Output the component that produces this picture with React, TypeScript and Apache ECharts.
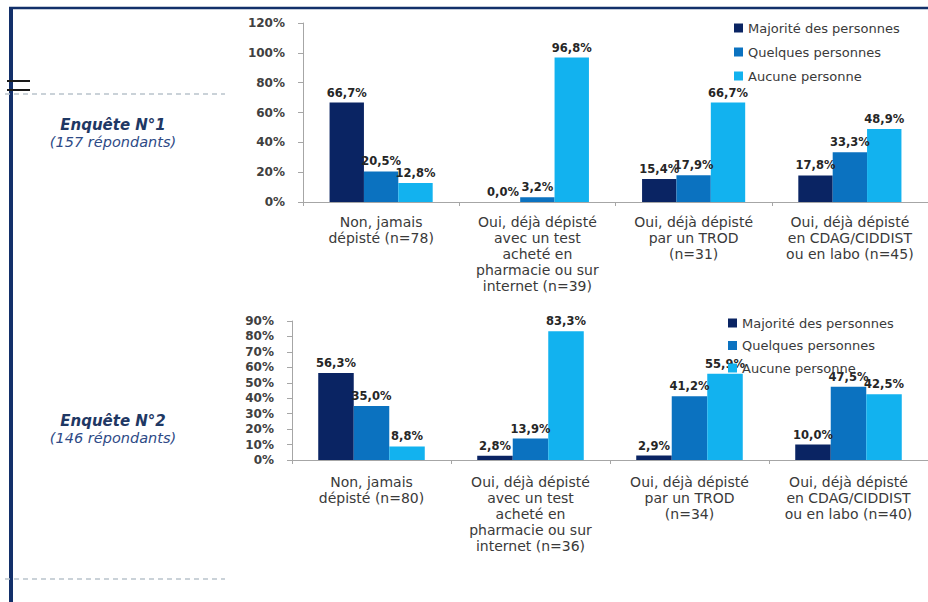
import React, { useEffect, useRef } from "react";
import * as echarts from "echarts";

const seriesNames = ["Majorité des personnes", "Quelques personnes", "Aucune personne"];
const seriesColors = ["#0a2463", "#0b72c0", "#12b2ef"];

const categoriesTop = [
  "Non, jamais\ndépisté (n=78)",
  "Oui, déjà dépisté\navec un test\nacheté en\npharmacie ou sur\ninternet (n=39)",
  "Oui, déjà dépisté\npar un TROD\n(n=31)",
  "Oui, déjà dépisté\nen CDAG/CIDDIST\nou en labo (n=45)",
];
const majoriteTop = [66.7, 0.0, 15.4, 17.8];
const quelquesTop = [20.5, 3.2, 17.9, 33.3];
const aucuneTop = [12.8, 96.8, 66.7, 48.9];

const categoriesBottom = [
  "Non, jamais\ndépisté (n=80)",
  "Oui, déjà dépisté\navec un test\nacheté en\npharmacie ou sur\ninternet (n=36)",
  "Oui, déjà dépisté\npar un TROD\n(n=34)",
  "Oui, déjà dépisté\nen CDAG/CIDDIST\nou en labo (n=40)",
];
const majoriteBottom = [56.3, 2.8, 2.9, 10.0];
const quelquesBottom = [35.0, 13.9, 41.2, 47.5];
const aucuneBottom = [8.8, 83.3, 55.9, 42.5];

const FONT = "DejaVu Sans";

export default function App() {
  const ref = useRef<HTMLDivElement>(null);

  useEffect(() => {
    document.body.style.margin = "0";
    const chart = echarts.init(ref.current!, null, { renderer: "svg" });

    const axisLineStyle = { color: "#a6a6a6", width: 1 };
    const yLabel = { fontFamily: FONT, fontSize: 12, fontWeight: "bold" as const, color: "#404040", margin: 18, formatter: "{value}%" };
    const xLabel = (margin: number) => ({
      fontFamily: FONT,
      fontSize: 14,
      color: "#3a3a3a",
      lineHeight: 16,
      margin,
      interval: 0,
      verticalAlign: "top" as const,
    });

    const fmt = (p: any) => p.value.toFixed(1).replace(".", ",") + "%";
    const mkSeries = (name: string, data: number[], color: string, idx: number) => ({
      type: "bar",
      name,
      data,
      xAxisIndex: idx,
      yAxisIndex: idx,
      barGap: "0%",
      barCategoryGap: idx === 0 ? "34%" : "33%",
      itemStyle: { color },
      label: {
        show: true,
        position: "top",
        distance: 4,
        formatter: fmt,
        fontFamily: FONT,
        fontSize: 11.5,
        fontWeight: "bold",
        color: "#262626",
      },
    });

    const topData = [majoriteTop, quelquesTop, aucuneTop];
    const botData = [majoriteBottom, quelquesBottom, aucuneBottom];

    const legendBase = {
      orient: "vertical" as const,
      icon: "rect",
      itemWidth: 9,
      itemHeight: 9,
      data: seriesNames,
      textStyle: { fontFamily: FONT, fontSize: 13, color: "#3a3a3a", lineHeight: 14 },
      selectedMode: false,
    };

    const dashed = { stroke: "#b9c3cc", lineWidth: 1.5, lineDash: [5, 4] };

    chart.setOption({
      animation: false,
      backgroundColor: "#ffffff",
      grid: [
        { left: 303, top: 23, width: 628, height: 179, containLabel: false },
        { left: 292, top: 321, width: 640, height: 139, containLabel: false },
      ],
      legend: [
        { ...legendBase, left: 729, top: 16, itemGap: 10 },
        { ...legendBase, left: 723, top: 311, itemGap: 8.5 },
      ],
      xAxis: [
        {
          type: "category",
          gridIndex: 0,
          data: categoriesTop,
          axisLine: { lineStyle: axisLineStyle },
          axisTick: { show: true, length: 4, lineStyle: axisLineStyle },
          axisLabel: xLabel(12),
        },
        {
          type: "category",
          gridIndex: 1,
          data: categoriesBottom,
          axisLine: { lineStyle: axisLineStyle },
          axisTick: { show: true, length: 4, lineStyle: axisLineStyle },
          axisLabel: xLabel(14),
        },
      ],
      yAxis: [
        {
          type: "value",
          gridIndex: 0,
          min: 0,
          max: 120,
          interval: 20,
          axisLine: { show: true, lineStyle: axisLineStyle },
          axisTick: { show: true, length: 5, lineStyle: axisLineStyle },
          splitLine: { show: false },
          axisLabel: yLabel,
        },
        {
          type: "value",
          gridIndex: 1,
          min: 0,
          max: 90,
          interval: 10,
          axisLine: { show: true, lineStyle: axisLineStyle },
          axisTick: { show: true, length: 5, lineStyle: axisLineStyle },
          splitLine: { show: false },
          axisLabel: yLabel,
        },
      ],
      series: [
        ...seriesNames.map((n, i) => mkSeries(n, topData[i], seriesColors[i], 0)),
        ...seriesNames.map((n, i) => mkSeries(n, botData[i], seriesColors[i], 1)),
      ],
      graphic: [
        { type: "line", shape: { x1: 9, y1: 8, x2: 928, y2: 8 }, style: { stroke: "#13306a", lineWidth: 2.5 }, silent: true },
        { type: "line", shape: { x1: 11, y1: 7, x2: 11, y2: 602 }, style: { stroke: "#13306a", lineWidth: 4 }, silent: true },
        { type: "line", shape: { x1: 7, y1: 81, x2: 30, y2: 81 }, style: { stroke: "#1a1a1a", lineWidth: 2 }, silent: true },
        { type: "line", shape: { x1: 7, y1: 90, x2: 30, y2: 90 }, style: { stroke: "#1a1a1a", lineWidth: 2 }, silent: true },
        { type: "line", shape: { x1: 5, y1: 94, x2: 225, y2: 94 }, style: dashed, silent: true },
        { type: "line", shape: { x1: 5, y1: 579, x2: 225, y2: 579 }, style: dashed, silent: true },
        {
          type: "text", x: 113, y: 125,
          style: { text: "Enquête N°1", fontFamily: FONT, fontSize: 15, fontWeight: "bold", fontStyle: "italic", fill: "#1f3864", align: "center", verticalAlign: "middle" },
        },
        {
          type: "text", x: 113, y: 142,
          style: { text: "(157 répondants)", fontFamily: FONT, fontSize: 14.5, fontStyle: "italic", fill: "#2e4a86", align: "center", verticalAlign: "middle" },
        },
        {
          type: "text", x: 113, y: 421,
          style: { text: "Enquête N°2", fontFamily: FONT, fontSize: 15, fontWeight: "bold", fontStyle: "italic", fill: "#1f3864", align: "center", verticalAlign: "middle" },
        },
        {
          type: "text", x: 113, y: 438,
          style: { text: "(146 répondants)", fontFamily: FONT, fontSize: 14.5, fontStyle: "italic", fill: "#2e4a86", align: "center", verticalAlign: "middle" },
        },
      ],
    });

    return () => chart.dispose();
  }, []);

  return <div ref={ref} style={{ position: "fixed", left: 0, top: 0, width: 928, height: 602 }} />;
}
